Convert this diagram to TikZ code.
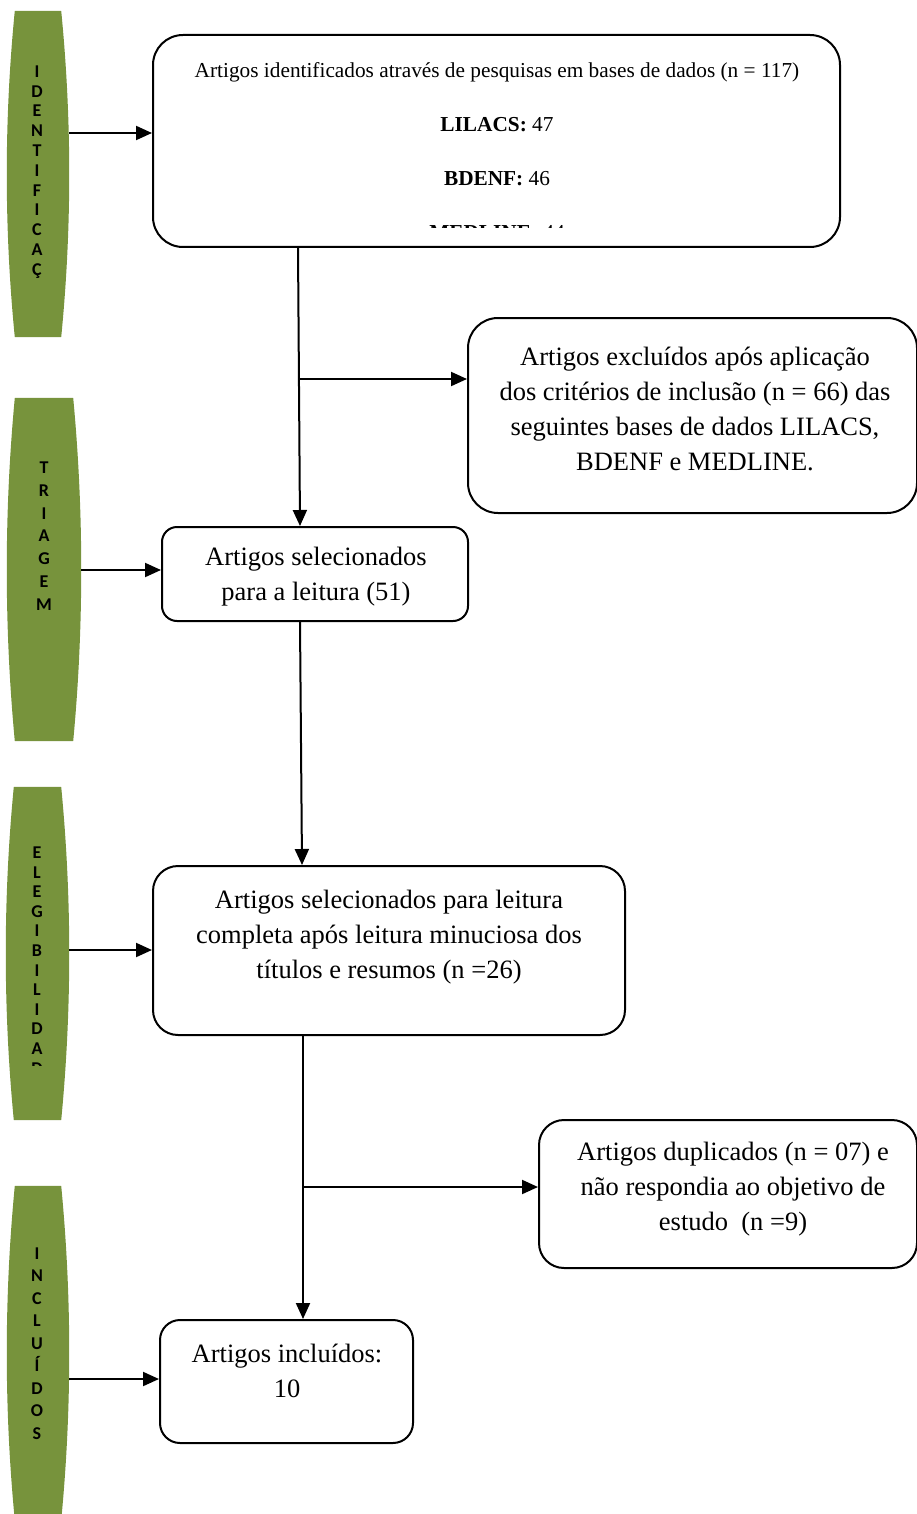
\documentclass[tikz,border=0pt]{standalone}
\usepackage{fontspec}
\setmainfont{Liberation Serif}
\newfontfamily\barfont{Carlito}
\usetikzlibrary{arrows.meta,calc}
\definecolor{barolive}{RGB}{119,147,60}
\newcommand\greenbar[1]{%
  \fill[barolive] ([xshift=8pt]#1.north west) -- ([xshift=-8pt]#1.north east)
    .. controls ([xshift=2.7pt]$(#1.north east)!0.333!(#1.south east)$) and ([xshift=2.7pt]$(#1.north east)!0.667!(#1.south east)$) ..
    ([xshift=-8pt]#1.south east) -- ([xshift=8pt]#1.south west)
    .. controls ([xshift=-2.7pt]$(#1.south west)!0.333!(#1.north west)$) and ([xshift=-2.7pt]$(#1.south west)!0.667!(#1.north west)$) ..
    cycle;}
\begin{document}
\begin{tikzpicture}[x=1pt,y=-1pt,
  box/.style={draw,line width=2pt,rounded corners=#1,inner sep=0pt},
  barnode/.style={rectangle,inner sep=0pt,draw=none},
  txt/.style={align=center,inner sep=0pt,font=\fontsize{26.5}{35}\selectfont},
  bartxt/.style={align=center,inner sep=0pt},
  conn/.style={line width=2pt,-{Triangle[length=16pt,width=14pt]}}]
\useasboundingbox (0,0) rectangle (916,1514);
% bars
\node[barnode,minimum width=62pt,minimum height=326pt] (bar1) at (38,174) {};
\node[barnode,minimum width=74pt,minimum height=343pt] (bar2) at (44,569.5) {};
\node[barnode,minimum width=63pt,minimum height=333pt] (bar3) at (37.5,953.5) {};
\node[barnode,minimum width=62pt,minimum height=334pt] (bar4) at (38,1353) {};
\greenbar{bar1}
\greenbar{bar2}
\greenbar{bar3}
\greenbar{bar4}
\node[bartxt,font=\barfont\bfseries\fontsize{18}{19.8}\selectfont] (l1) at (37,172) {I\\D\\E\\N\\T\\I\\F\\I\\C\\A\\Ç};
\node[bartxt,font=\barfont\bfseries\fontsize{18}{22.8}\selectfont] (l2) at (44,536) {T\\R\\I\\A\\G\\E\\M};
\begin{scope}
\clip (0,780) rectangle (100,1065);
\node[bartxt,font=\barfont\bfseries\fontsize{18}{19.6}\selectfont] (l3) at (37,960.5) {E\\L\\E\\G\\I\\B\\I\\L\\I\\D\\A\\D};
\end{scope}
\node[bartxt,font=\barfont\bfseries\fontsize{18}{22.5}\selectfont] (l4) at (37,1343.5) {I\\N\\C\\L\\U\\Í\\D\\O\\S};
% boxes
\node[box=30pt,minimum width=687pt,minimum height=212pt] (box1) at (496.5,141) {};
\begin{scope}
\clip (150,30) rectangle (845,227.5);
\node[align=center,inner sep=0pt,font=\fontsize{21.3}{54}\selectfont] (t1) at (497,151) {Artigos identificados através de pesquisas em bases de dados (n = 117)\\\textbf{LILACS:} 47\\\textbf{BDENF:} 46\\\textbf{MEDLINE:} 44};
\end{scope}
\node[box=30pt,minimum width=449pt,minimum height=195pt] (box2) at (692.5,415.5) {};
\node[txt] (t2) at (695,409) {Artigos excluídos após aplicação\\dos critérios de inclusão (n = 66) das\\seguintes bases de dados LILACS,\\BDENF e MEDLINE.};
\node[box=15pt,minimum width=306pt,minimum height=94pt] (box3) at (315,574) {};
\node[txt] (t3) at (316,577) {Artigos selecionados\\para a leitura (51)};
\node[box=25pt,minimum width=472pt,minimum height=169pt] (box4) at (389,950.5) {};
\node[txt] (t4) at (389,937.5) {Artigos selecionados para leitura\\completa após leitura minuciosa dos\\títulos e resumos (n =26)};
\node[box=25pt,minimum width=378pt,minimum height=148pt] (box5) at (728,1194) {};
\node[txt] (t5) at (733,1189) {Artigos duplicados (n = 07) e\\não respondia ao objetivo de\\estudo\ \ (n =9)};
\node[box=20pt,minimum width=253pt,minimum height=123pt] (box6) at (286.5,1381.5) {};
\node[txt] (t6) at (287,1371) {Artigos incluídos:\\10};
% connectors
\coordinate (j1) at (299.3,379);
\coordinate (j2) at (303,1187);
\draw[conn] (bar1.east |- 0,133) -- (box1.west |- 0,133);
\draw[conn] (box1.south -| 298,0) -- (box3.north -| 300,0);
\draw[conn] (j1) -- (box2.west |- j1);
\draw[conn] (bar2.east |- 0,570) -- (box3.west |- 0,570);
\draw[conn] (box3.south -| 300,0) -- (box4.north -| 302,0);
\draw[conn] (bar3.east |- 0,950) -- (box4.west |- 0,950);
\draw[conn] (box4.south -| 303,0) -- (box6.north -| 303,0);
\draw[conn] (j2) -- (box5.west |- j2);
\draw[conn] (bar4.east |- 0,1379) -- (box6.west |- 0,1379);
\end{tikzpicture}
\end{document}
